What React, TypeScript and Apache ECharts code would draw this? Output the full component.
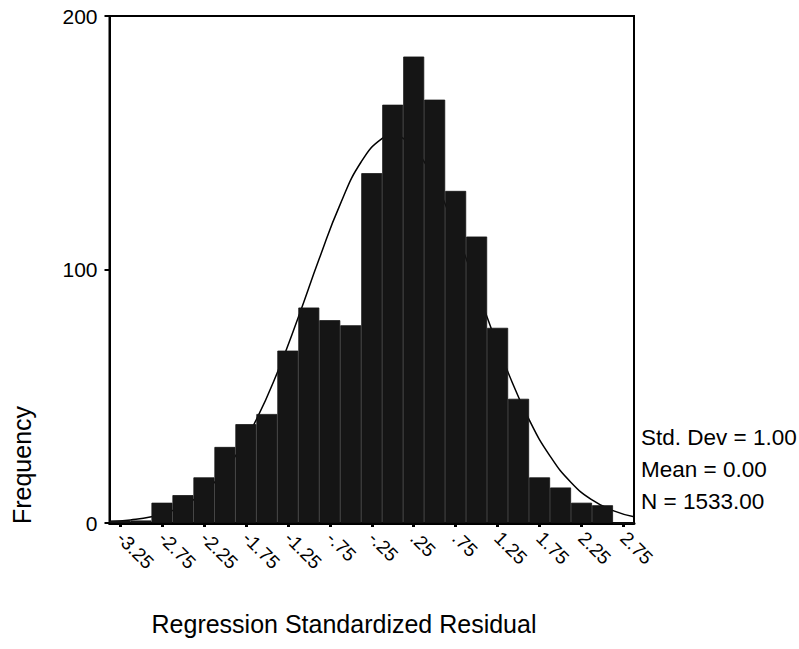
import React, { useEffect, useRef } from "react";
import * as echarts from "echarts";

// Histogram bins (centres, SPSS-style labels)
const binLabels = [
  "-3.25", "-3.00", "-2.75", "-2.50", "-2.25", "-2.00", "-1.75", "-1.50", "-1.25",
  "-1.00", "-.75", "-.50", "-.25", ".00", ".25", ".50", ".75", "1.00", "1.25",
  "1.50", "1.75", "2.00", "2.25", "2.50", "2.75",
];
const frequencies = [
  1, 1, 8, 11, 18, 30, 39, 43, 68, 85, 80, 78, 138, 165, 184, 167, 131, 113, 77,
  49, 18, 14, 8, 7, 0,
];

// Fitted normal curve
const curveX = [
  -3.375, -3.125, -2.875, -2.625, -2.375, -2.125, -1.875, -1.625, -1.375, -1.125,
  -0.875, -0.625, -0.375, -0.125, 0, 0.125, 0.375, 0.625, 0.875, 1.125, 1.375,
  1.625, 1.875, 2.125, 2.375, 2.625, 2.875,
];
const curveY = [
  0.5, 1.2, 2.5, 4.9, 9.1, 16.0, 26.4, 40.8, 59.4, 81.2, 104.3, 125.8, 142.5,
  151.7, 152.9, 151.7, 142.5, 125.8, 104.3, 81.2, 59.4, 40.8, 26.4, 16.0, 9.1,
  4.9, 2.5,
];

const yTicks = { min: 0, max: 200, interval: 100 };
const statsLines = ["Std. Dev = 1.00", "Mean = 0.00", "N = 1533.00"];
const xTitle = "Regression Standardized Residual";
const yTitle = "Frequency";

const FONT = "'Liberation Sans', Arial, Helvetica, sans-serif";

export default function App() {
  const ref = useRef<HTMLDivElement>(null);
  useEffect(() => {
    if (!ref.current) return;
    const chart = echarts.init(ref.current, null, { renderer: "svg" });
    chart.setOption({
      animation: false,
      backgroundColor: "#ffffff",
      textStyle: { fontFamily: FONT, color: "#000" },
      grid: {
        left: 109.5,
        right: 165,
        top: 16,
        bottom: 126,
        show: true,
        borderColor: "#000",
        borderWidth: 2,
        backgroundColor: "transparent",
      },
      xAxis: [
        {
          type: "category",
          data: binLabels,
          boundaryGap: true,
          axisLine: { show: true, onZero: false, lineStyle: { color: "#000", width: 3 } },
          axisTick: {
            show: true,
            alignWithLabel: true,
            interval: 1,
            length: 4,
            lineStyle: { color: "#000", width: 3 },
          },
          axisLabel: {
            interval: 1,
            rotate: -45,
            margin: 12,
            fontSize: 19,
            color: "#000",
            fontFamily: FONT,
          },
          splitLine: { show: false },
        },
        {
          type: "value",
          min: -3.375,
          max: 2.875,
          show: false,
          axisLine: { onZero: false },
        },
      ],
      yAxis: {
        type: "value",
        min: yTicks.min,
        max: yTicks.max,
        interval: yTicks.interval,
        axisLine: { show: true, onZero: false, lineStyle: { color: "#000", width: 2 } },
        axisTick: { show: true, length: 5, lineStyle: { color: "#000", width: 2 } },
        axisLabel: { fontSize: 21, margin: 12, color: "#000", fontFamily: FONT },
        splitLine: { show: false },
      },
      series: [
        {
          type: "line",
          xAxisIndex: 1,
          data: curveX.map((x, i) => [x, curveY[i]]),
          smooth: true,
          showSymbol: false,
          lineStyle: { color: "#000", width: 1.5 },
          z: 2,
        },
        {
          type: "bar",
          xAxisIndex: 0,
          data: frequencies,
          barCategoryGap: "0%",
          itemStyle: { color: "#151515", borderColor: "#151515", borderWidth: 0.8 },
          z: 3,
        },
      ],
      graphic: [
        {
          type: "text",
          x: 22,
          y: 465,
          rotation: Math.PI / 2,
          style: {
            text: yTitle,
            fontSize: 25,
            fontFamily: FONT,
            fill: "#000",
            textAlign: "center",
            textVerticalAlign: "middle",
          },
        },
        {
          type: "text",
          x: 344,
          y: 624,
          style: {
            text: xTitle,
            fontSize: 25,
            fontFamily: FONT,
            fill: "#000",
            textAlign: "center",
            textVerticalAlign: "middle",
          },
        },
        ...statsLines.map((t, i) => ({
          type: "text",
          x: 641,
          y: 437.5 + i * 32,
          style: {
            text: t,
            fontSize: 22.5,
            fontFamily: FONT,
            fill: "#000",
            textAlign: "left",
            textVerticalAlign: "middle",
          },
        })),
      ],
    });
    return () => chart.dispose();
  }, []);
  return (
    <div
      ref={ref}
      style={{ position: "fixed", left: 0, top: 0, width: 799, height: 649, background: "#fff" }}
    />
  );
}
